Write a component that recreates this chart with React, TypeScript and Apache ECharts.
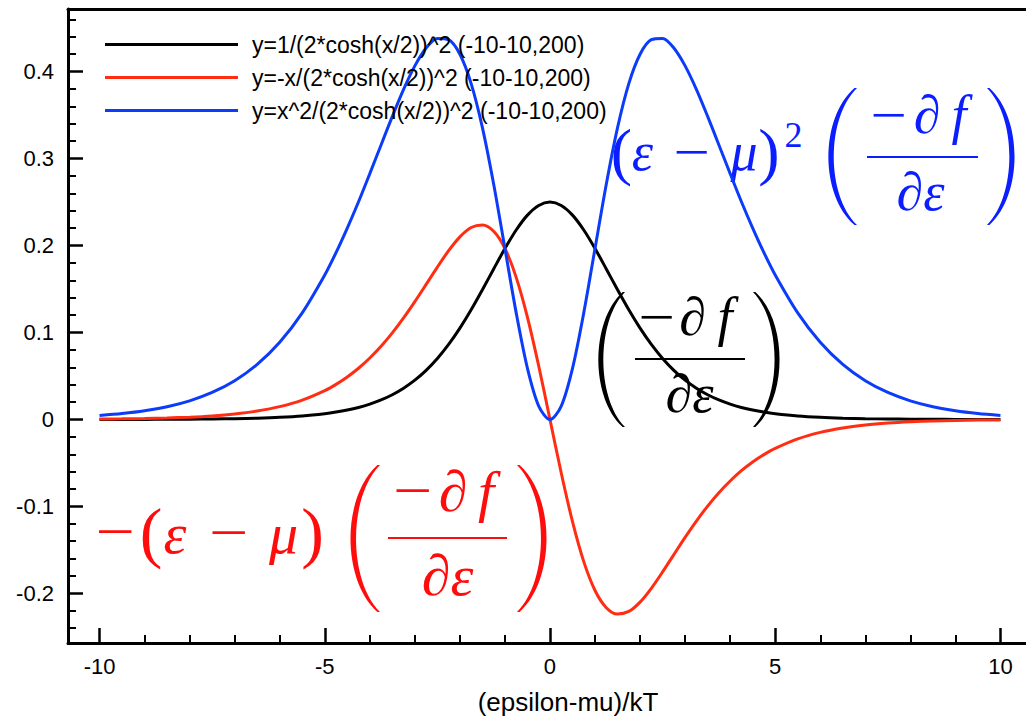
import React, { useEffect, useRef } from 'react';
import * as echarts from 'echarts';

// Sample positions (finer near the centre where the curves bend most)
const xs = [
  -10, -9.5, -9, -8.5, -8, -7.5, -7, -6.5, -6, -5.5, -5,
  -4.75, -4.5, -4.25, -4, -3.75, -3.5, -3.25, -3, -2.75, -2.5, -2.25, -2, -1.75, -1.5, -1.25, -1, -0.75, -0.5, -0.25,
  0,
  0.25, 0.5, 0.75, 1, 1.25, 1.5, 1.75, 2, 2.25, 2.5, 2.75, 3, 3.25, 3.5, 3.75, 4, 4.25, 4.5, 4.75,
  5, 5.5, 6, 6.5, 7, 7.5, 8, 8.5, 9, 9.5, 10,
];

// -df/dE
const windowValues = [
  0.00005, 0.00007, 0.00012, 0.0002, 0.00034, 0.00055, 0.00091, 0.0015, 0.00247, 0.00405, 0.00665,
  0.0085, 0.01087, 0.01386, 0.01767, 0.02245, 0.02845, 0.03594, 0.04518, 0.05648, 0.07011, 0.08626, 0.10499, 0.12612, 0.14915, 0.1731, 0.19661, 0.2179, 0.235, 0.24613,
  0.25,
  0.24613, 0.235, 0.2179, 0.19661, 0.1731, 0.14915, 0.12612, 0.10499, 0.08626, 0.07011, 0.05648, 0.04518, 0.03594, 0.02845, 0.02245, 0.01767, 0.01386, 0.01087, 0.0085,
  0.00665, 0.00405, 0.00247, 0.0015, 0.00091, 0.00055, 0.00034, 0.0002, 0.00012, 0.00007, 0.00005,
];

// -(E-mu) * (-df/dE)
const firstMomentValues = [
  0.00045, 0.00071, 0.00111, 0.00173, 0.00268, 0.00414, 0.00637, 0.00974, 0.0148, 0.0223, 0.03324,
  0.04039, 0.04892, 0.05891, 0.07068, 0.08419, 0.09958, 0.11681, 0.13554, 0.15532, 0.17528, 0.19409, 0.20998, 0.22071, 0.22373, 0.21638, 0.19661, 0.16343, 0.1175, 0.06153,
  0,
  -0.06153, -0.1175, -0.16343, -0.19661, -0.21638, -0.22373, -0.22071, -0.20998, -0.19409, -0.17528, -0.15532, -0.13554, -0.11681, -0.09958, -0.08419, -0.07068, -0.05891, -0.04892, -0.04039,
  -0.03324, -0.0223, -0.0148, -0.00974, -0.00637, -0.00414, -0.00268, -0.00173, -0.00111, -0.00071, -0.00045,
];

// (E-mu)^2 * (-df/dE)
const secondMomentValues = [
  0.00454, 0.00676, 0.00996, 0.01467, 0.02144, 0.03105, 0.04459, 0.06333, 0.08881, 0.12263, 0.1662,
  0.19187, 0.22012, 0.25035, 0.28272, 0.3157, 0.34851, 0.37962, 0.40662, 0.42713, 0.43819, 0.43669, 0.41996, 0.38624, 0.33559, 0.27047, 0.19661, 0.12257, 0.05875, 0.01538,
  0,
  0.01538, 0.05875, 0.12257, 0.19661, 0.27047, 0.33559, 0.38624, 0.41996, 0.43669, 0.43819, 0.42713, 0.40662, 0.37962, 0.34851, 0.3157, 0.28272, 0.25035, 0.22012, 0.19187,
  0.1662, 0.12263, 0.08881, 0.06333, 0.04459, 0.03105, 0.02144, 0.01467, 0.00996, 0.00676, 0.00454,
];

const seriesNames = [
  'y=1/(2*cosh(x/2))^2 (-10-10,200)',
  'y=-x/(2*cosh(x/2))^2 (-10-10,200)',
  'y=x^2/(2*cosh(x/2))^2 (-10-10,200)',
];

const xMajorTicks = [-10, -5, 0, 5, 10];
const xMinorTicks = [-9, -8, -7, -6, -4, -3, -2, -1, 1, 2, 3, 4, 6, 7, 8, 9];
const yMajorTicks = [-0.2, -0.1, 0, 0.1, 0.2, 0.3, 0.4];
const yMinorTicks = [
  -0.24, -0.22, -0.18, -0.16, -0.14, -0.12, -0.08, -0.06, -0.04, -0.02,
  0.02, 0.04, 0.06, 0.08, 0.12, 0.14, 0.16, 0.18, 0.22, 0.24, 0.26, 0.28,
  0.32, 0.34, 0.36, 0.38, 0.42, 0.44, 0.46,
];

const X_MIN = -10.7;
const X_MAX = 11.5;
const Y_MIN = -0.257;
const Y_MAX = 0.472;

const SANS = "'Liberation Sans', Arial, Helvetica, sans-serif";
const SERIF = "'Liberation Serif', 'DejaVu Serif', serif";

const CURVE_COLORS = ['#000000', '#ff2e12', '#0c3cfa'];
const RED_MATH = '#ff0d0d';
const BLUE_MATH = '#0a1eff';
const BLACK_MATH = '#000000';

// Tall delimiters, drawn as filled crescents in a 23 x 100 box
const LPAREN_D = 'M21,0 C-6.5,22 -6.5,78 21,100 L23,100 C-1.5,78 -1.5,22 23,0 Z';
const RPAREN_D = 'M2,0 C29.5,22 29.5,78 2,100 L0,100 C24.5,78 24.5,22 0,0 Z';

let shapesRegistered = false;
function registerDelimiters() {
  if (shapesRegistered) return;
  echarts.graphic.registerShape('lparen', echarts.graphic.extendPath(LPAREN_D, {}));
  echarts.graphic.registerShape('rparen', echarts.graphic.extendPath(RPAREN_D, {}));
  shapesRegistered = true;
}

function glyph(text: string, cx: number, baseline: number, size: number, color: string, italic: boolean, stretch = 1) {
  return {
    type: 'text',
    x: cx,
    y: baseline - 0.3375 * size,
    scaleX: stretch,
    z: 1,
    style: {
      text,
      fill: color,
      fontSize: size,
      fontFamily: SERIF,
      fontStyle: italic ? 'italic' : 'normal',
      align: 'center',
      verticalAlign: 'middle',
      textAlign: 'center',
      textVerticalAlign: 'middle',
    },
  };
}

function delimiter(kind: 'lparen' | 'rparen', left: number, top: number, w: number, h: number, color: string) {
  return {
    type: kind,
    x: left,
    y: top,
    scaleX: w / 23,
    scaleY: h / 100,
    z: 1,
    style: { fill: color, lineWidth: 0 },
  };
}

function bar(x0: number, x1: number, y: number, color: string) {
  return {
    type: 'rect',
    z: 1,
    shape: { x: x0, y: y - 1.1, width: x1 - x0, height: 2.2 },
    style: { fill: color },
  };
}

function mathElements() {
  const b = BLUE_MATH;
  const k = BLACK_MATH;
  const r = RED_MATH;
  return [
    // (ε − μ)² (−∂f/∂ε)
    glyph('(', 621.5, 173, 64, b, false),
    glyph('ε', 642.5, 170, 54, b, true),
    glyph('−', 691.5, 170, 54, b, false, 1.2),
    glyph('μ', 744, 170, 54, b, true),
    glyph(')', 769, 173, 64, b, false),
    glyph('2', 793.5, 147, 36, b, false),
    delimiter('lparen', 828, 88, 29, 137, b),
    glyph('−', 888.5, 133, 54, b, false, 1.2),
    glyph('∂', 927, 133, 54, b, true),
    glyph('f', 959, 133, 54, b, true),
    bar(867, 978, 157, b),
    glyph('∂ε', 920.5, 210, 54, b, true),
    delimiter('rparen', 987, 88, 28, 137, b),

    // (−∂f/∂ε)
    delimiter('lparen', 598, 292, 27, 135, k),
    glyph('−', 656.5, 335, 54, k, false, 1.2),
    glyph('∂', 692.5, 335, 54, k, true),
    glyph('f', 725, 335, 54, k, true),
    bar(635, 745, 359, k),
    glyph('∂ε', 689.5, 412, 54, k, true),
    delimiter('rparen', 753, 292, 27, 135, k),

    // −(ε − μ) (−∂f/∂ε)
    glyph('−', 115, 551, 58, r, false, 1.2),
    glyph('(', 151, 555, 68, r, false),
    glyph('ε', 175, 553, 58, r, true),
    glyph('−', 228.5, 552, 58, r, false, 1.2),
    glyph('μ', 283.5, 553, 58, r, true),
    glyph(')', 312.5, 555, 68, r, false),
    delimiter('lparen', 350, 465, 30, 147, r),
    glyph('−', 412.5, 510, 58, r, false, 1.2),
    glyph('∂', 453, 511, 58, r, true),
    glyph('f', 486, 511, 58, r, true),
    bar(388, 507, 538, r),
    glyph('∂ε', 447.5, 595, 58, r, true),
    delimiter('rparen', 517, 465, 30, 147, r),
  ];
}

function pairs(values: number[]) {
  return xs.map((x, i) => [x, values[i]]);
}

function xAxisBase() {
  return {
    type: 'value',
    min: X_MIN,
    max: X_MAX,
    splitLine: { show: false },
    axisLine: { show: false, onZero: false },
  };
}

function yAxisBase() {
  return {
    type: 'value',
    min: Y_MIN,
    max: Y_MAX,
    splitLine: { show: false },
    axisLine: { show: false, onZero: false },
  };
}

function buildOption() {
  const tickLabel = { fontSize: 22, color: '#000', fontFamily: SANS };
  return {
    animation: false,
    backgroundColor: '#ffffff',
    textStyle: { fontFamily: SANS },
    grid: { left: 68, top: 9, width: 1000, height: 636, containLabel: false },
    legend: {
      show: true,
      orient: 'vertical',
      left: 100,
      top: 28,
      icon: 'rect',
      itemWidth: 133,
      itemHeight: 3,
      itemGap: 10,
      selectedMode: false,
      data: seriesNames,
      textStyle: { fontSize: 23, fontFamily: SANS, color: '#000', lineHeight: 23, padding: [0, 0, 0, 9] },
    },
    xAxis: [
      {
        ...xAxisBase(),
        position: 'bottom',
        axisLine: { show: true, onZero: false, lineStyle: { color: '#000', width: 3 } },
        axisTick: { show: true, inside: true, length: 15, customValues: xMajorTicks, lineStyle: { color: '#000', width: 2.5 } },
        axisLabel: { show: true, customValues: xMajorTicks, margin: 12, ...tickLabel },
        name: '(epsilon-mu)/kT',
        nameLocation: 'middle',
        nameGap: 46,
        nameTextStyle: { fontSize: 26, color: '#000', fontFamily: SANS },
      },
      {
        ...xAxisBase(),
        position: 'bottom',
        axisTick: { show: true, inside: true, length: 8, customValues: xMinorTicks, lineStyle: { color: '#000', width: 2 } },
        axisLabel: { show: false },
      },
      {
        ...xAxisBase(),
        position: 'top',
        axisLine: { show: true, onZero: false, lineStyle: { color: '#000', width: 3 } },
        axisTick: { show: false },
        axisLabel: { show: false },
      },
    ],
    yAxis: [
      {
        ...yAxisBase(),
        position: 'left',
        axisLine: { show: true, onZero: false, lineStyle: { color: '#000', width: 3 } },
        axisTick: { show: true, inside: true, length: 15, customValues: yMajorTicks, lineStyle: { color: '#000', width: 2.5 } },
        axisLabel: { show: true, customValues: yMajorTicks, margin: 14, ...tickLabel },
      },
      {
        ...yAxisBase(),
        position: 'left',
        axisTick: { show: true, inside: true, length: 8, customValues: yMinorTicks, lineStyle: { color: '#000', width: 2 } },
        axisLabel: { show: false },
      },
    ],
    series: [windowValues, firstMomentValues, secondMomentValues].map((vals, i) => ({
      name: seriesNames[i],
      type: 'line',
      xAxisIndex: 0,
      yAxisIndex: 0,
      data: pairs(vals),
      showSymbol: false,
      symbol: 'none',
      smooth: 0.3,
      z: 3,
      lineStyle: { color: CURVE_COLORS[i], width: 3 },
      itemStyle: { color: CURVE_COLORS[i] },
    })),
    graphic: { elements: mathElements() },
  };
}

export default function App() {
  const ref = useRef<HTMLDivElement>(null);

  useEffect(() => {
    if (!ref.current) return;
    registerDelimiters();
    const chart = echarts.init(ref.current, null, { renderer: 'svg' });
    chart.setOption(buildOption() as any);
    return () => {
      chart.dispose();
    };
  }, []);

  return (
    <div style={{ position: 'fixed', left: 0, top: 0, width: 1026, height: 720, overflow: 'hidden', background: '#fff' }}>
      <div ref={ref} style={{ width: 1100, height: 720 }} />
    </div>
  );
}
